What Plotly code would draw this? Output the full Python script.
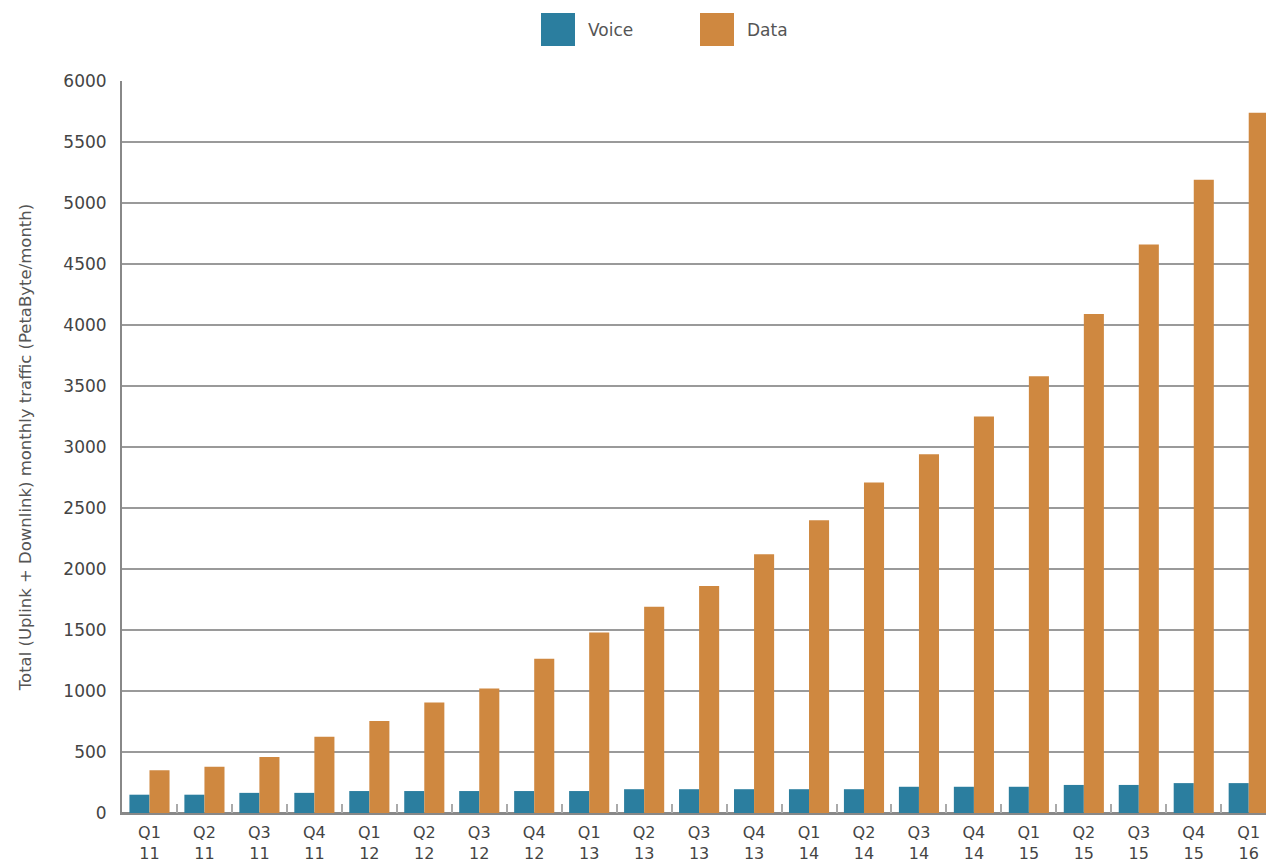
import plotly.graph_objects as go

quarters = ["Q1", "Q2", "Q3", "Q4", "Q1", "Q2", "Q3", "Q4", "Q1", "Q2", "Q3", "Q4",
            "Q1", "Q2", "Q3", "Q4", "Q1", "Q2", "Q3", "Q4", "Q1"]
years = ["11", "11", "11", "11", "12", "12", "12", "12", "13", "13", "13", "13",
         "14", "14", "14", "14", "15", "15", "15", "15", "16"]
categories = [f"{q}<br>{y}" for q, y in zip(quarters, years)]

voice = [150, 150, 165, 165, 180, 180, 180, 180, 180, 195, 195, 195,
         195, 195, 215, 215, 215, 230, 230, 245, 245]
data = [350, 380, 460, 625, 755, 905, 1020, 1265, 1480, 1690, 1860, 2120,
        2400, 2710, 2940, 3250, 3580, 4090, 4660, 5190, 5740]

y_ticks = [0, 500, 1000, 1500, 2000, 2500, 3000, 3500, 4000, 4500, 5000, 5500, 6000]

VOICE_C = "#2b7e9f"
DATA_C = "#cf8840"
FONT = "DejaVu Sans"

# page body has an 8px margin; figure laid out to compensate
W, H = 1266, 855
ML, MR, MT, MB = 114, 0, 73, 50
PW, PH = W - ML - MR, H - MT - MB

fig = go.Figure()
fig.add_trace(go.Bar(name="Voice", x=categories, y=voice, marker_color=VOICE_C,
                     marker_line_width=0, showlegend=False))
fig.add_trace(go.Bar(name="Data", x=categories, y=data, marker_color=DATA_C,
                     marker_line_width=0, showlegend=False))

# custom legend (large square swatches), positions in figure pixels
legend_items = [("Voice", VOICE_C, 533), ("Data", DATA_C, 692)]
for name, col, px in legend_items:
    fig.add_shape(type="rect", xref="paper", yref="paper",
                  x0=(px - ML) / PW, x1=(px + 34 - ML) / PW,
                  y0=(MT + PH - 38) / PH, y1=(MT + PH - 5) / PH,
                  fillcolor=col, line_width=0)
    fig.add_annotation(text=name, xref="paper", yref="paper",
                       x=(px + 45 - ML) / PW, y=(MT + PH - 22) / PH,
                       xanchor="left", yanchor="middle", showarrow=False,
                       font=dict(family=FONT, size=17, color="#555555"))

fig.update_layout(
    width=W, height=H,
    margin=dict(l=ML, r=MR, t=MT, b=MB, autoexpand=False),
    paper_bgcolor="white", plot_bgcolor="white",
    barmode="group", bargap=0.27, bargroupgap=0,
    font=dict(family=FONT, color="#444444"),
)
fig.update_xaxes(
    type="category", range=[-0.5, 20.46],
    showline=True, linecolor="#888888", linewidth=2,
    ticks="inside", tickson="boundaries", ticklen=9, tickwidth=2, tickcolor="#aaaaaa",
    tickfont=dict(size=16, family=FONT, color="#444444"),
    ticklabelstandoff=4,
    showgrid=False, automargin=False,
)
fig.update_yaxes(
    range=[0, 6000], tickvals=y_ticks, ticktext=[str(v) for v in y_ticks],
    showgrid=True, gridcolor="#9a9a9a", gridwidth=2,
    showline=True, linecolor="#888888", linewidth=2,
    zeroline=True, zerolinecolor="#888888", zerolinewidth=2,
    ticks="", ticklabelstandoff=10,
    tickfont=dict(size=17, family=FONT, color="#444444"),
    title=dict(text="Total (Uplink + Downlink) monthly traffic (PetaByte/month)",
               font=dict(size=16.5, family=FONT, color="#555555"), standoff=28),
    automargin=False,
)

fig.write_html("out.html")
